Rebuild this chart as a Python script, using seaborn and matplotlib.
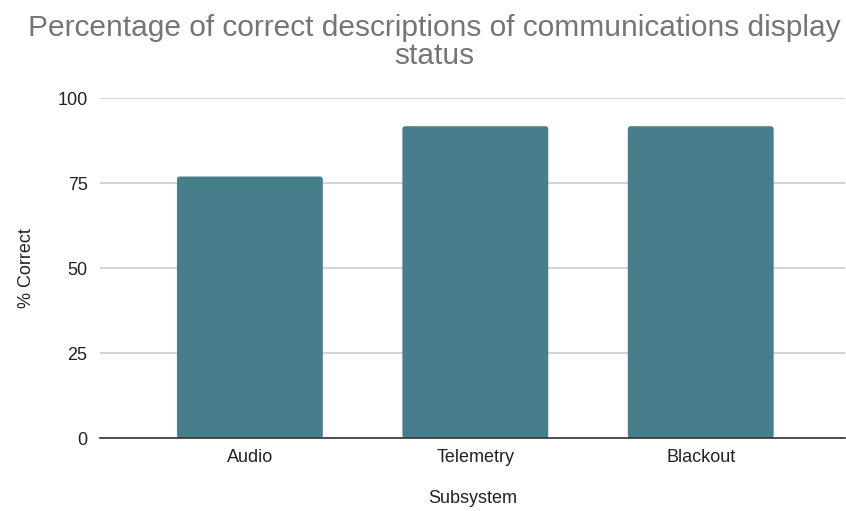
import matplotlib
matplotlib.use("Agg")
import matplotlib.pyplot as plt
import seaborn as sns
import pandas as pd
from matplotlib.patches import FancyBboxPatch

categories = ["Audio", "Telemetry", "Blackout"]
values = [76.9, 91.7, 91.7]
yticks = [0, 25, 50, 75, 100]

df = pd.DataFrame({"Subsystem": categories, "% Correct": values})

sns.set_theme(style="white")
plt.rcParams["font.family"] = ["Liberation Sans", "DejaVu Sans"]

fig = plt.figure(figsize=(8.46, 5.11), dpi=100)
ax = fig.add_axes([100/846, 73/511, 745/846, 340/511])

bar_color = "#467f8b"
sns.barplot(data=df, x="Subsystem", y="% Correct", color=bar_color,
            saturation=1, width=0.647, ax=ax, zorder=3)

# round bar corners slightly
for p in list(ax.patches):
    x, y = p.get_x(), p.get_y()
    w, h = p.get_width(), p.get_height()
    p.set_visible(False)
    fb = FancyBboxPatch((x, y), w, h, boxstyle="round,pad=0,rounding_size=0.012",
                        mutation_aspect=100/340*745/3.305,
                        facecolor=bar_color, edgecolor="none", zorder=3)
    ax.add_patch(fb)

ax.set_xlim(-0.665, 2.64)
ax.set_ylim(0, 100)
ax.set_yticks(yticks)
ax.yaxis.grid(True, color="#cccccc", linewidth=1.2, zorder=0)
ax.set_axisbelow(True)
for s in ["top", "right", "left"]:
    ax.spines[s].set_visible(False)
ax.spines["bottom"].set_color("#333333")
ax.spines["bottom"].set_linewidth(1.2)
ax.spines["bottom"].set_zorder(4)
ax.tick_params(axis="both", length=0, labelsize=13, labelcolor="#222222")
ax.tick_params(axis="y", pad=9)
ax.tick_params(axis="x", pad=8)
ax.set_xlabel("Subsystem", fontsize=13, color="#222222", labelpad=17)
ax.set_ylabel("% Correct", fontsize=13, color="#222222", labelpad=16)

title_lines = ["Percentage of correct descriptions of communications display", "status"]
fig.text(434/846, 1 - 28/511, title_lines[0],
         ha="center", va="center", fontsize=21.5, color="#757575")
fig.text(434/846, 1 - 56/511, title_lines[1],
         ha="center", va="center", fontsize=21.5, color="#757575")

fig.savefig("out.png", dpi=100, facecolor="white")
